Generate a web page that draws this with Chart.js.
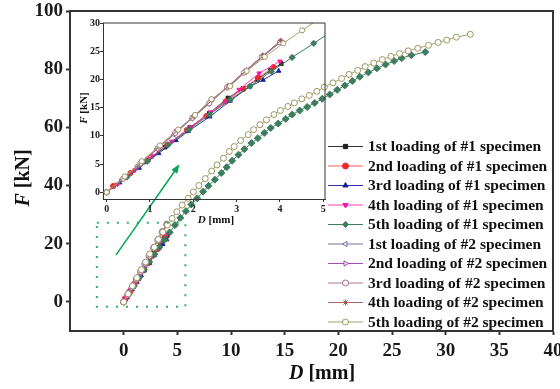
<!DOCTYPE html>
<html>
<head>
<meta charset="utf-8">
<script src="https://cdn.jsdelivr.net/npm/chart.js@4.4.0/dist/chart.umd.min.js"></script>
<style>
  html, body { margin: 0; padding: 0; background: #fff; }
  #wrap { position: relative; width: 560px; height: 389px; }
  #wrap canvas { position: absolute; left: 0; top: 0; }
</style>
</head>
<body>
<div id="wrap">
  <canvas id="main" width="560" height="389"></canvas>
  <canvas id="inset" width="560" height="389"></canvas>
</div>
<script>
// values: D in mm, F in kN
const seriesNames = [
  "1st loading of #1 specimen", "2nd loading of #1 specimen", "3rd loading of #1 specimen",
  "4th loading of #1 specimen", "5th loading of #1 specimen", "1st loading of #2 specimen",
  "2nd loading of #2 specimen", "3rd loading of #2 specimen", "4th loading of #2 specimen",
  "5th loading of #2 specimen"
];

const D1_1 = [0, 0.45, 0.9, 1.35, 1.92, 2.37, 2.8, 3.15, 3.48, 3.78, 4.03];
const F1_1 = [0, 2.8, 5.4, 8.0, 11.5, 14.0, 16.7, 18.4, 20.0, 21.6, 22.8];
const D2_1 = [0, 0.15, 0.55, 0.95, 1.4, 1.85, 2.3, 2.75, 3.15, 3.5, 3.85];
const F2_1 = [0, 1.1, 3.4, 5.8, 8.4, 11.0, 13.5, 16.1, 18.3, 20.3, 22.2];
const D3_1 = [0, 0.3, 0.75, 1.2, 1.6, 1.88, 2.38, 2.85, 3.3, 3.61, 3.97];
const F3_1 = [0, 1.7, 4.3, 6.9, 9.2, 10.8, 13.4, 16.2, 18.7, 19.9, 21.5];
const D4_1 = [0, 0.25, 0.65, 1.05, 1.5, 1.95, 2.4, 2.75, 3.06, 3.52, 4.0];
const F4_1 = [0, 1.4, 3.9, 6.4, 9.0, 11.6, 14.2, 16.0, 18.2, 21.1, 23.2];
const D5_1 = [0, 0.47, 0.94, 1.42, 1.9, 2.38, 2.85, 3.31, 3.8, 4.28, 4.78, 5.28, 5.8, 6.3, 6.85,
  7.4, 7.9, 8.5, 9.1, 9.6, 10.1, 10.7, 11.25, 11.9, 12.5, 13.1, 13.7, 14.4, 15.1, 15.7, 16.4,
  17.1, 17.8, 18.5, 19.2, 19.9, 20.6, 21.3, 22.0, 22.8, 23.6, 24.4, 25.2, 25.9, 26.8, 28.1];
const F5_1 = [0, 2.7, 5.5, 8.4, 11.1, 13.8, 16.4, 18.8, 21.4, 23.9, 26.4, 28.9, 31.2, 33.5, 35.6,
  37.9, 39.9, 42.0, 44.3, 46.3, 48.5, 50.6, 52.5, 54.6, 56.3, 58.1, 59.8, 61.3, 62.9, 64.4, 65.8,
  67.0, 68.4, 69.8, 71.3, 72.9, 74.4, 75.9, 77.4, 78.9, 80.3, 81.6, 82.8, 83.8, 84.8, 85.9];
const D1_2 = [0, 0.35, 0.71, 1.15, 1.55, 1.96, 2.35, 2.77, 3.19, 3.58, 4.0];
const F1_2 = [0, 2.3, 4.7, 7.6, 10.2, 13.0, 15.6, 18.5, 21.2, 23.9, 26.5];
const D2_2 = [0, 0.4, 0.8, 1.22, 1.6, 2.02, 2.4, 2.82, 3.2, 3.62, 4.04];
const F2_2 = [0, 2.6, 5.3, 8.1, 10.8, 13.5, 16.2, 18.9, 21.5, 24.3, 26.8];
const D3_2 = [0, 0.38, 0.78, 1.18, 1.58, 1.98, 2.37, 2.78, 3.17, 3.58, 4.0];
const F3_2 = [0, 2.4, 5.1, 7.8, 10.5, 13.2, 15.8, 18.6, 21.2, 24.0, 26.6];
const D4_2 = [0, 0.43, 0.83, 1.21, 1.63, 2.01, 2.43, 2.81, 3.23, 3.61, 4.02];
const F4_2 = [0, 2.8, 5.4, 8.0, 10.9, 13.4, 16.3, 18.8, 21.7, 24.2, 26.9];
const D5_2 = [0, 0.42, 0.81, 1.23, 1.65, 2.04, 2.42, 2.85, 3.23, 3.65, 4.08, 4.51, 4.95, 5.45,
  6.0, 6.5, 7.0, 7.6, 8.2, 8.7, 9.3, 9.84, 10.3, 10.9, 11.6, 12.1, 12.7, 13.3, 14.0, 14.6, 15.3,
  15.9, 16.6, 17.3, 18.0, 18.7, 19.5, 20.3, 21.0, 21.8, 22.5, 23.3, 24.1, 24.9, 25.7, 26.5, 27.4,
  28.4, 29.3, 30.1, 31.0, 32.3];
const F5_2 = [0, 2.8, 5.5, 8.3, 11.1, 13.7, 16.5, 18.8, 21.5, 24.0, 26.4, 28.7, 31.0, 33.3,
  35.6, 37.8, 40.0, 42.4, 45.0, 47.1, 49.4, 51.7, 53.4, 55.5, 57.5, 59.2, 60.9, 62.6, 64.4, 65.8,
  67.2, 68.4, 69.8, 71.0, 72.4, 73.8, 75.3, 76.8, 78.2, 79.6, 80.9, 82.1, 83.3, 84.4, 85.4, 86.3,
  87.2, 88.2, 89.2, 90.0, 91.0, 92.0];

const allD = [D1_1, D2_1, D3_1, D4_1, D5_1, D1_2, D2_2, D3_2, D4_2, D5_2];
const allF = [F1_1, F2_1, F3_1, F4_1, F5_1, F1_2, F2_2, F3_2, F4_2, F5_2];

const xTicks = [0, 5, 10, 15, 20, 25, 30, 35, 40];
const yTicks = [0, 20, 40, 60, 80, 100];
const insetXTicks = [0, 1, 2, 3, 4, 5];
const insetYTicks = [0, 5, 10, 15, 20, 25, 30];

// zoom box and arrow in main-axis units
const boxD = [-2.5, 5.75];
const boxF = [-1.7, 27.2];
const arrowD = [-0.72, 5.2];
const arrowF = [16.1, 47.3];

// marker look per series
const colors = ["#1e1e1e", "#f02828", "#1c22a0", "#ff14a0", "#3b7d5c",
  "#6c6a9c", "#a23cb4", "#a86a90", "#9a5a50", "#9c9663"];
const lineColors = ["#333333", "#ff5a5a", "#2a34a8", "#ff3cb4", "#3b7d5c",
  "#77759f", "#a84cbc", "#b07a9a", "#a86a60", "#a6a070"];
const styles = ["rect", "circle", "triangle", "triangle", "rectRot",
  "triangle", "triangle", "circle", "star", "circle"];
const rotations = [0, 0, 0, 180, 0, -90, 90, 0, 0, 0];
const hollow = [false, false, false, false, false, true, true, true, false, true];

const serif = '"Liberation Serif", "Times New Roman", serif';

function makeDatasets(radius) {
  return seriesNames.map((name, i) => ({
    label: name,
    data: allD[i].map((d, j) => ({ x: d, y: allF[i][j] })),
    borderColor: lineColors[i],
    borderWidth: 1,
    pointStyle: styles[i],
    rotation: rotations[i],
    pointRadius: styles[i] == "rectRot" ? radius + 0.5 : radius,
    pointBorderColor: colors[i],
    pointBackgroundColor: hollow[i] ? "#ffffff" : colors[i],
    pointBorderWidth: 1,
    order: 9 - i,
    tension: 0
  }));
}

function axis(min, max, ticks, size, fit, isX, tickLen, pad, font) {
  return {
    type: "linear",
    min: min,
    max: max,
    afterBuildTicks: (s) => { s.ticks = ticks.map((v) => ({ value: v })); },
    afterFit: (s) => {
      if (isX) s.height = size; else s.width = size;
      s.paddingLeft = 0; s.paddingRight = 0; s.paddingTop = 0; s.paddingBottom = 0;
    },
    grid: { display: true, drawOnChartArea: false, drawTicks: true, tickLength: tickLen, tickWidth: fit, tickColor: "#333" },
    border: { display: true, color: "#333", width: fit },
    ticks: { font: font, color: "#1a1a1a", padding: pad, maxRotation: 0, autoSkip: false }
  };
}

// frame on top and right, plus titles
function frameAndTitles(opts) {
  return {
    id: "frame_" + opts.id,
    afterDraw(chart) {
      const ctx = chart.ctx;
      const a = chart.chartArea;
      ctx.save();
      ctx.strokeStyle = "#333";
      ctx.lineWidth = opts.lw;
      ctx.beginPath();
      ctx.moveTo(a.left, a.top);
      ctx.lineTo(a.right, a.top);
      ctx.lineTo(a.right, a.bottom);
      ctx.stroke();

      ctx.fillStyle = "#111";
      ctx.textBaseline = "alphabetic";
      const it = "italic bold " + opts.size + "px " + serif;
      const bd = "bold " + opts.size + "px " + serif;

      // x title
      ctx.font = it;
      const w1 = ctx.measureText("D").width;
      ctx.font = bd;
      const w2 = ctx.measureText(" [mm]").width;
      let x0 = opts.xTitle[0] - (w1 + w2) / 2;
      ctx.font = it;
      ctx.fillText("D", x0, opts.xTitle[1]);
      ctx.font = bd;
      ctx.fillText(" [mm]", x0 + w1, opts.xTitle[1]);

      // y title, rotated
      ctx.translate(opts.yTitle[0], opts.yTitle[1]);
      ctx.rotate(-Math.PI / 2);
      ctx.font = it;
      const v1 = ctx.measureText("F").width;
      ctx.font = bd;
      const v2 = ctx.measureText(" [kN]").width;
      x0 = -(v1 + v2) / 2;
      ctx.font = it;
      ctx.fillText("F", x0, 0);
      ctx.font = bd;
      ctx.fillText(" [kN]", x0 + v1, 0);
      ctx.restore();
    }
  };
}

// dotted zoom box, arrow, legend on the main chart
const extras = {
  id: "extras",
  afterDraw(chart) {
    const ctx = chart.ctx;
    const xs = chart.scales.x, ys = chart.scales.y;
    ctx.save();

    ctx.strokeStyle = "#2db36b";
    ctx.lineWidth = 2;
    ctx.setLineDash([2, 8]);
    const l = xs.getPixelForValue(boxD[0]), r = xs.getPixelForValue(boxD[1]);
    const t = ys.getPixelForValue(boxF[1]), b = ys.getPixelForValue(boxF[0]);
    ctx.strokeRect(l, t, r - l, b - t);
    ctx.setLineDash([]);

    const ax0 = xs.getPixelForValue(arrowD[0]), ay0 = ys.getPixelForValue(arrowF[0]);
    const ax1 = xs.getPixelForValue(arrowD[1]), ay1 = ys.getPixelForValue(arrowF[1]);
    const ang = Math.atan2(ay1 - ay0, ax1 - ax0);
    ctx.strokeStyle = "#00a651";
    ctx.fillStyle = "#00a651";
    ctx.lineWidth = 1.5;
    ctx.beginPath();
    ctx.moveTo(ax0, ay0);
    ctx.lineTo(ax1 - 6 * Math.cos(ang), ay1 - 6 * Math.sin(ang));
    ctx.stroke();
    ctx.beginPath();
    ctx.moveTo(ax1, ay1);
    ctx.lineTo(ax1 - 9 * Math.cos(ang) + 3.5 * Math.sin(ang), ay1 - 9 * Math.sin(ang) - 3.5 * Math.cos(ang));
    ctx.lineTo(ax1 - 9 * Math.cos(ang) - 3.5 * Math.sin(ang), ay1 - 9 * Math.sin(ang) + 3.5 * Math.cos(ang));
    ctx.closePath();
    ctx.fill();

    // legend
    ctx.font = "bold 15.5px " + serif;
    ctx.textBaseline = "middle";
    chart.data.datasets.forEach((ds, i) => {
      const y = 146.5 + i * 19.5;
      ctx.strokeStyle = ds.borderColor;
      ctx.lineWidth = 1.2;
      ctx.beginPath();
      ctx.moveTo(328, y);
      ctx.lineTo(363, y);
      ctx.stroke();
      ctx.strokeStyle = ds.pointBorderColor;
      ctx.fillStyle = ds.pointBackgroundColor;
      ctx.lineWidth = 1;
      Chart.helpers.drawPoint(ctx, { pointStyle: ds.pointStyle, rotation: ds.rotation, radius: 3, borderWidth: 1 }, 345.5, y);
      ctx.fillStyle = "#111";
      ctx.fillText(ds.label, 368, y + 0.5);
    });
    ctx.restore();
  }
};

const mainFont = { family: serif, size: 19, weight: "bold" };
const insetFont = { family: serif, size: 10, weight: "bold" };

new Chart(document.getElementById("main"), {
  type: "line",
  data: { datasets: makeDatasets(3) },
  options: {
    responsive: false,
    animation: false,
    events: [],
    layout: { padding: { left: 0, top: 11, right: 7, bottom: 0 } },
    plugins: { legend: { display: false }, tooltip: { enabled: false } },
    scales: {
      x: axis(-5, 40, xTicks, 58, 2, true, 4, 5, mainFont),
      y: axis(-10, 100, yTicks, 70, 2, false, 4, 3, mainFont)
    }
  },
  plugins: [extras, frameAndTitles({ id: "m", lw: 2, size: 20, xTitle: [322, 379], yTitle: [28.5, 178] })]
});

new Chart(document.getElementById("inset"), {
  type: "line",
  data: { datasets: makeDatasets(2.6) },
  options: {
    responsive: false,
    animation: false,
    events: [],
    layout: { padding: { left: 0, top: 23, right: 235, bottom: 0 } },
    plugins: { legend: { display: false }, tooltip: { enabled: false } },
    scales: {
      x: axis(-0.085, 5.04, insetXTicks, 190, 1, true, 3, 1, insetFont),
      y: axis(-1.2, 30, insetYTicks, 103, 1, false, 3, 0, insetFont)
    }
  },
  plugins: [frameAndTitles({ id: "i", lw: 1, size: 11, xTitle: [216, 223], yTitle: [86.5, 108] })]
});
</script>
</body>
</html>
